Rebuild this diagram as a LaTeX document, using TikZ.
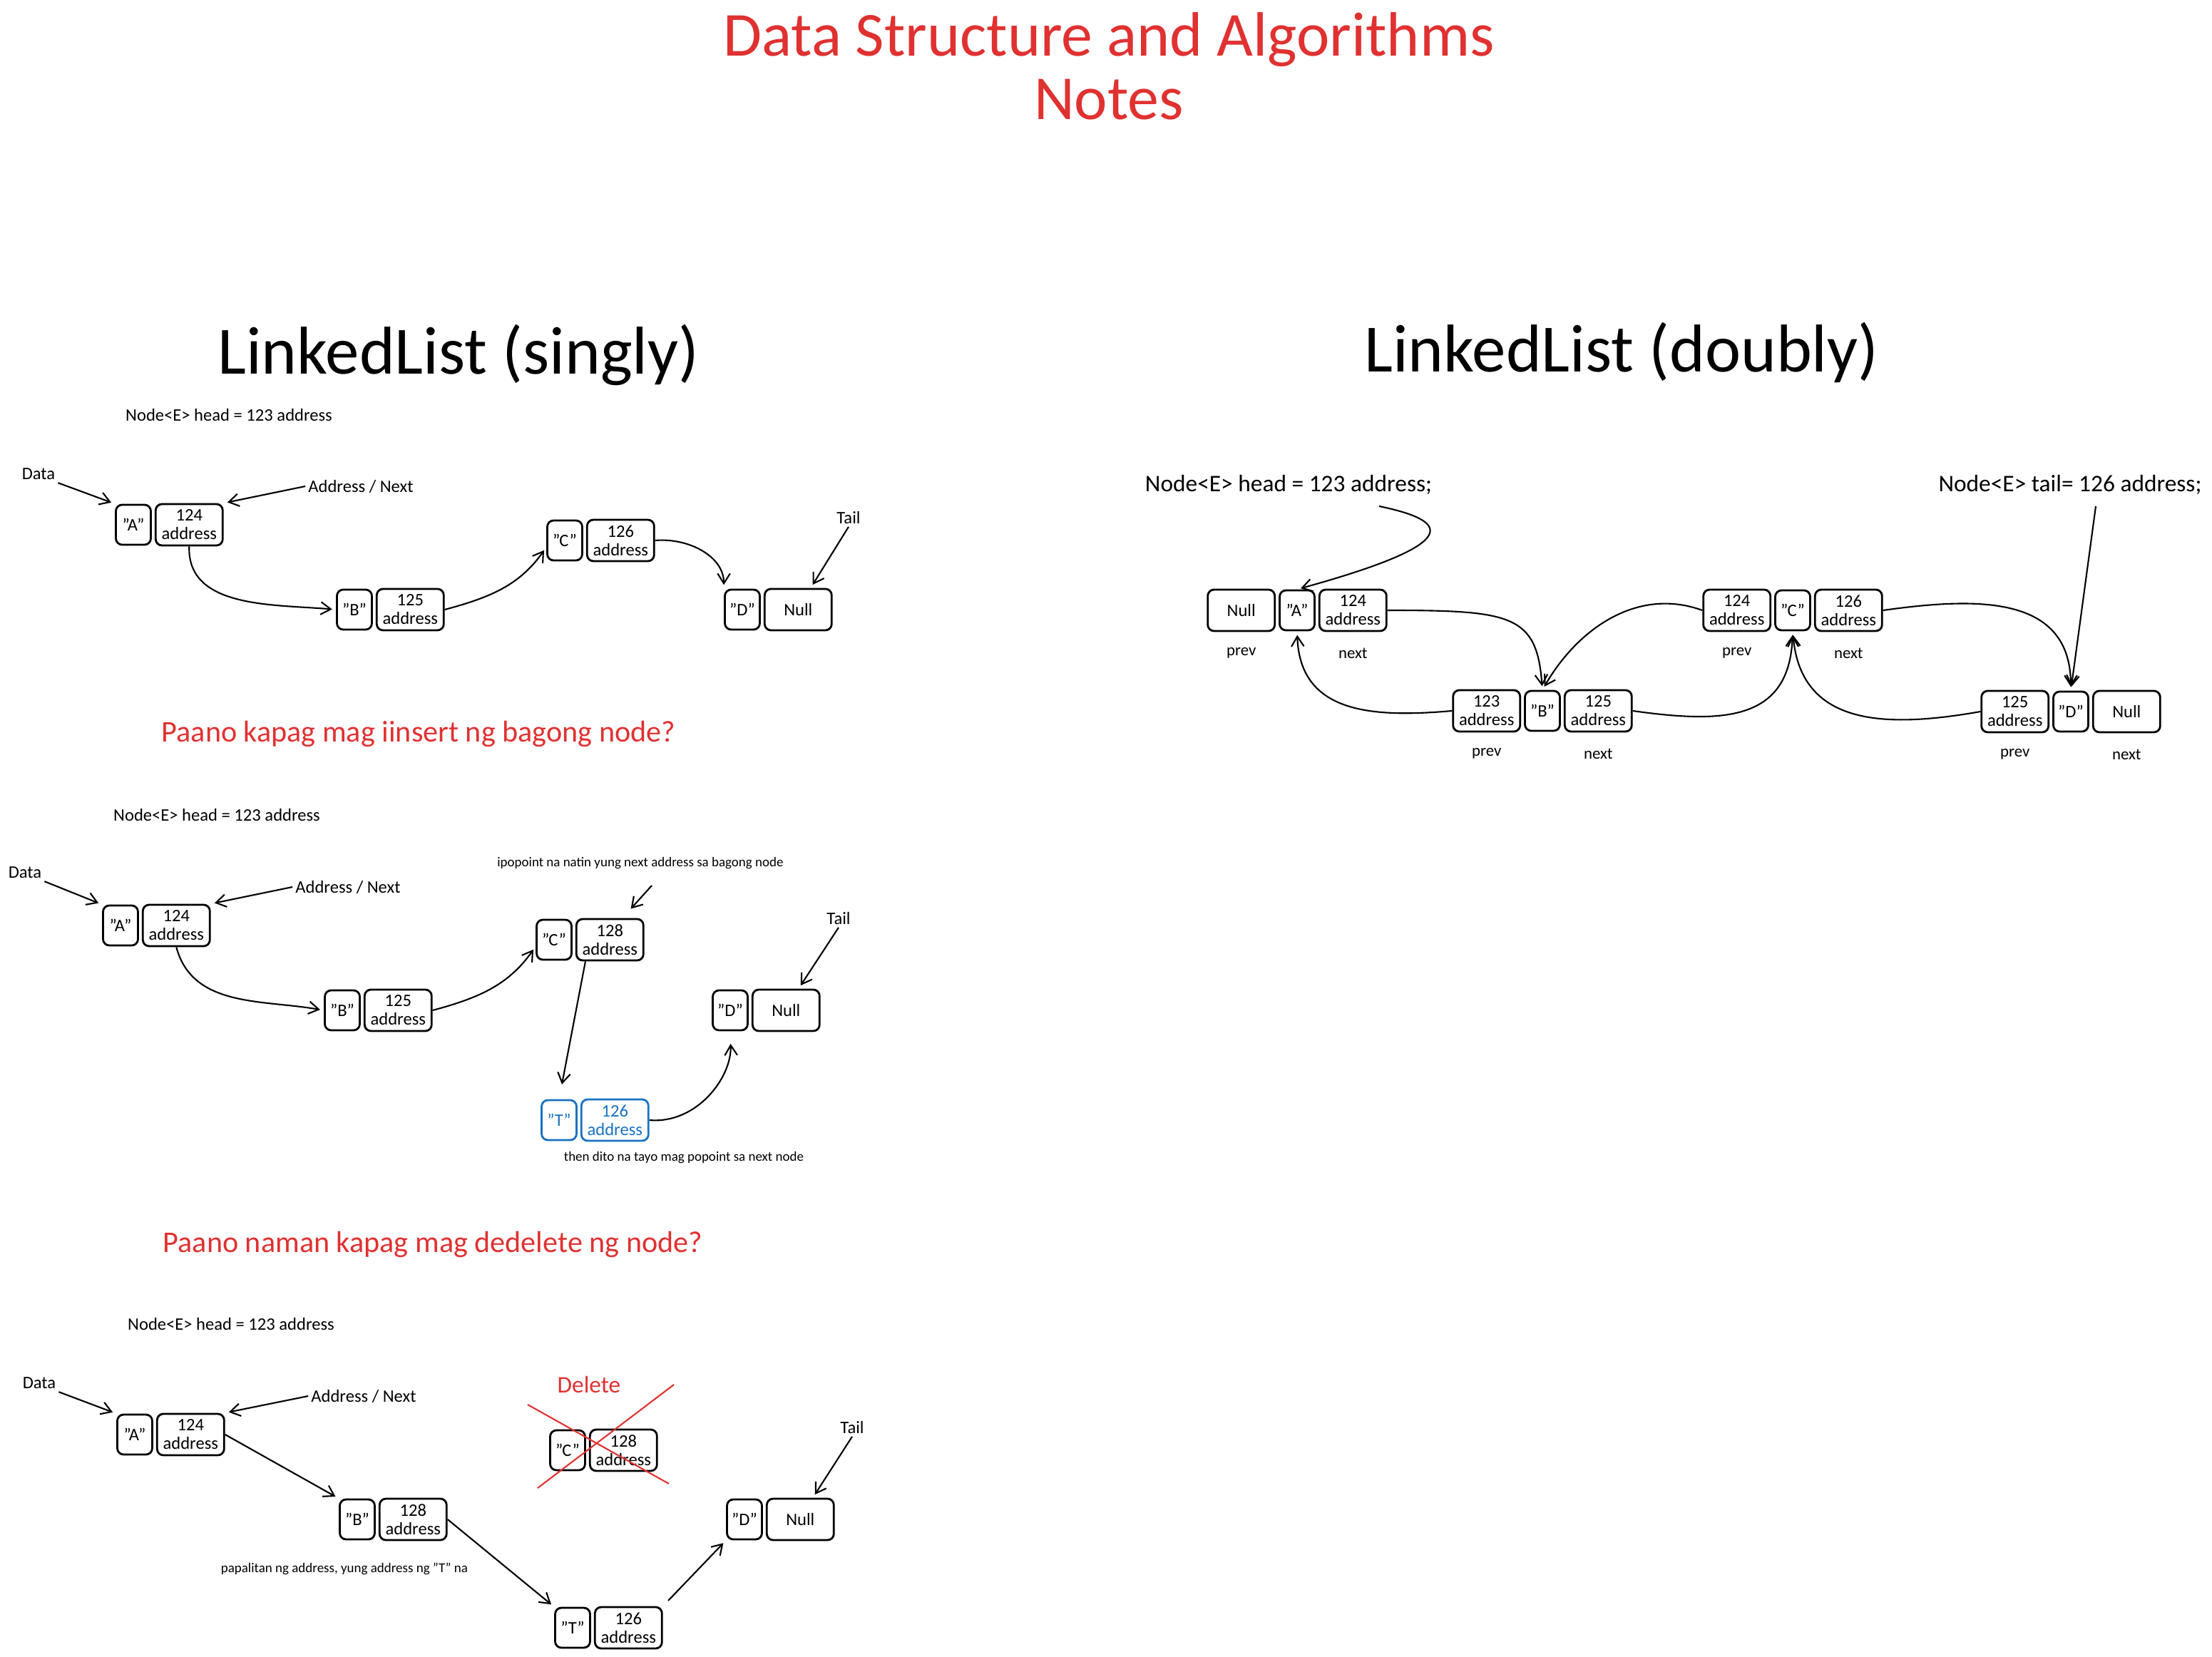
\documentclass[tikz,border=0pt]{standalone}
\usepackage{fontspec}
\setmainfont{Carlito}
\usetikzlibrary{positioning,arrows.meta}
\definecolor{xred}{HTML}{E03131}
\definecolor{xblue}{HTML}{1971C2}

\begin{document}
\begin{tikzpicture}[every node/.style={inner sep=1pt},
                    val/.style={draw,rounded corners=2.5pt,line width=0.8pt,
                                minimum width=0.49cm,minimum height=0.56cm,inner sep=0pt,
                                font=\fontsize{7}{7.4}\selectfont},
                    adr/.style={val,minimum width=0.94cm,minimum height=0.58cm,align=center},
                    lbl/.style={font=\fontsize{7}{8}\selectfont},
                    smallnote/.style={font=\fontsize{5.4}{6}\selectfont},
                    biglbl/.style={font=\fontsize{9.5}{11}\selectfont},
                    pn/.style={font=\fontsize{6.5}{7}\selectfont},
                    hdr/.style={font=\fontsize{27}{30}\selectfont},
                    ask/.style={text=xred,font=\fontsize{12}{14}\selectfont},
                    arr/.style={-{Straight Barb[length=4pt,width=5pt]},line width=0.6pt,shorten >=1.5pt},]
	\useasboundingbox (0,0) rectangle (31.02,-23.24);

	\node[text=xred,align=center,font=\fontsize{25}{25.3}\selectfont] (title) at (15.55,-0.93) {Data Structure and Algorithms\\Notes};
	\node[hdr] (hs) at (6.43,-4.98) {LinkedList (singly)};
	\node[hdr] (hd) at (22.74,-4.94) {LinkedList (doubly)};

	\node[lbl] (head1) at (3.21,-5.82) {Node<E> head = 123 address};
	\node[lbl] (dat1) at (0.54,-6.65) {Data};
	\node[lbl] (nxt1) at (5.06,-6.82) {Address / Next};
	\node[lbl] (tail1) at (11.90,-7.26) {Tail};
	\node[val] (A1) at (1.87,-7.36) {"A"};
	\node[adr,right=0.04cm of A1] (a1) {124\\address};
	\node[val] (B1) at (4.97,-8.55) {"B"};
	\node[adr,right=0.04cm of B1] (b1) {125\\address};
	\node[val] (C1) at (7.92,-7.58) {"C"};
	\node[adr,right=0.04cm of C1] (c1) {126\\address};
	\node[val] (D1) at (10.41,-8.55) {"D"};
	\node[adr,right=0.04cm of D1] (n1) {Null};
	\draw[arr] (dat1.south east) -- (A1.north west);
	\draw[arr] (nxt1.west) -- (a1.north east);
	\draw[arr] (tail1.south) -- (n1.60);
	\draw[arr] (a1.south) to[out=-92,in=175] (B1.west);
	\draw[arr] (b1.east) to[out=15,in=235] (C1.200);
	\draw[arr] (c1.east) to[out=5,in=90] (D1.north west);

	\node[ask] (q1) at (5.87,-10.29) {Paano kapag mag iinsert ng bagong node?};

	\node[lbl] (head2) at (3.04,-11.43) {Node<E> head = 123 address};
	\node[lbl] (dat2) at (0.35,-12.24) {Data};
	\node[lbl] (nxt2) at (4.88,-12.44) {Address / Next};
	\node[lbl] (tail2) at (11.76,-12.88) {Tail};
	\node[smallnote] (note1) at (8.98,-12.11) {ipopoint na natin yung next address sa bagong node};
	\node[val] (A2) at (1.69,-12.98) {"A"};
	\node[adr,right=0.04cm of A2] (a2) {124\\address};
	\node[val] (B2) at (4.80,-14.17) {"B"};
	\node[adr,right=0.04cm of B2] (b2) {125\\address};
	\node[val] (C2) at (7.77,-13.18) {"C"};
	\node[adr,right=0.04cm of C2] (c2) {128\\address};
	\node[val] (D2) at (10.24,-14.17) {"D"};
	\node[adr,right=0.04cm of D2] (n2) {Null};
	\node[val,xblue] (T2) at (7.84,-15.71) {"T"};
	\node[adr,xblue,right=0.04cm of T2] (t2) {126\\address};
	\node[smallnote] (note2) at (9.59,-16.24) {then dito na tayo mag popoint sa next node};
	\coordinate (p1) at (9.14,-12.42);
	\draw[arr] (dat2.south east) -- (A2.north west);
	\draw[arr] (nxt2.west) -- (a2.north east);
	\draw[arr] (tail2.south) -- (n2.60);
	\draw[arr] (a2.south) to[out=-75,in=170] (B2.west);
	\draw[arr] (b2.east) to[out=15,in=235] (C2.200);
	\draw[arr,shorten >=5pt] (p1) -- (c2.60);
	\draw[arr,shorten >=6pt] ([xshift=4pt]c2.south west) -- (T2.north);
	\draw[arr,shorten >=5pt] (t2.east) to[out=-5,in=-88] (D2.south);

	\node[ask] (q2) at (6.07,-17.45) {Paano naman kapag mag dedelete ng node?};

	\node[lbl] (head3) at (3.24,-18.57) {Node<E> head = 123 address};
	\node[lbl] (dat3) at (0.55,-19.40) {Data};
	\node[lbl] (nxt3) at (5.10,-19.58) {Address / Next};
	\node[lbl] (tail3) at (11.95,-20.02) {Tail};
	\node[text=xred,font=\fontsize{9.5}{11}\selectfont] (del3) at (8.26,-19.42) {Delete};
	\node[val] (A3) at (1.89,-20.12) {"A"};
	\node[adr,right=0.04cm of A3] (a3) {124\\address};
	\node[val] (B3) at (5.01,-21.31) {"B"};
	\node[adr,right=0.04cm of B3] (b3) {128\\address};
	\node[val] (C3) at (7.96,-20.34) {"C"};
	\node[adr,right=0.04cm of C3] (c3) {128\\address};
	\node[val] (D3) at (10.44,-21.31) {"D"};
	\node[adr,right=0.04cm of D3] (n3) {Null};
	\node[val] (T3) at (8.03,-22.83) {"T"};
	\node[adr,right=0.04cm of T3] (t3) {126\\address};
	\node[smallnote] (note3) at (4.83,-22.00) {papalitan ng address, yung address ng "T" na};
	\draw[arr] (dat3.south east) -- (A3.north west);
	\draw[arr] (nxt3.west) -- (a3.north east);
	\draw[arr] (tail3.south) -- (n3.60);
	\draw[arr] (a3.east) -- (B3.north west);
	\draw[arr] (b3.east) -- (T3.north west);
	\draw[arr,shorten <=3pt] (t3.north east) -- (D3.south west);
	\draw[xred,line width=0.6pt] (7.40,-19.70) -- (9.38,-20.81);
	\draw[xred,line width=0.6pt] (9.45,-19.42) -- (7.54,-20.87);

	\node[biglbl] (head4) at (18.07,-6.80) {Node<E> head = 123 address;};
	\node[biglbl] (tail4) at (29.03,-6.80) {Node<E> tail= 126 address;};
	\node[val] (Aval) at (18.19,-8.56) {"A"};
	\node[adr,left=0.04cm of Aval] (Aprev) {Null};
	\node[adr,right=0.04cm of Aval] (Anext) {124\\address};
	\node[val] (Cval) at (25.14,-8.56) {"C"};
	\node[adr,left=0.04cm of Cval] (Cprev) {124\\address};
	\node[adr,right=0.04cm of Cval] (Cnext) {126\\address};
	\node[val] (Bval) at (21.63,-9.97) {"B"};
	\node[adr,left=0.04cm of Bval] (Bprev) {123\\address};
	\node[adr,right=0.04cm of Bval] (Bnext) {125\\address};
	\node[val] (Dval) at (29.04,-9.98) {"D"};
	\node[adr,left=0.04cm of Dval] (Dprev) {125\\address};
	\node[adr,right=0.04cm of Dval] (Dnext) {Null};
	\node[pn,below=0.18cm of Aprev] (lAp) {prev};
	\node[pn,below=0.18cm of Anext] (lAn) {next};
	\node[pn,below=0.18cm of Cprev] (lCp) {prev};
	\node[pn,below=0.18cm of Cnext] (lCn) {next};
	\node[pn,below=0.18cm of Bprev] (lBp) {prev};
	\node[pn,below=0.18cm of Bnext] (lBn) {next};
	\node[pn,below=0.18cm of Dprev] (lDp) {prev};
	\node[pn,below=0.18cm of Dnext] (lDn) {next};
	\coordinate (h4) at (19.34,-7.10);
	\coordinate (t4) at (29.39,-7.10);
	\draw[arr] (h4) .. controls (20.3,-7.3) and (20.6,-7.6) .. (Aval.north);
	\draw[arr] (t4) -- (Dval.north);
	\draw[arr] (Anext.east) .. controls (21.2,-8.56) and (21.55,-8.62) .. (Bval.north);
	\draw[arr] (Cprev.west) to[out=160,in=60] (Bval.north);
	\draw[arr] (Bprev.west) to[out=185,in=-88,looseness=1.2] (Aval.south);
	\draw[arr] (Bnext.east) to[out=-8,in=-92,looseness=1.3] (Cval.south);
	\draw[arr] (Dprev.west) to[out=190,in=-85,looseness=1.2] (Cval.south);
	\draw[arr] (Cnext.east) to[out=8,in=90,looseness=1.2] (Dval.north);
\end{tikzpicture}
\end{document}
